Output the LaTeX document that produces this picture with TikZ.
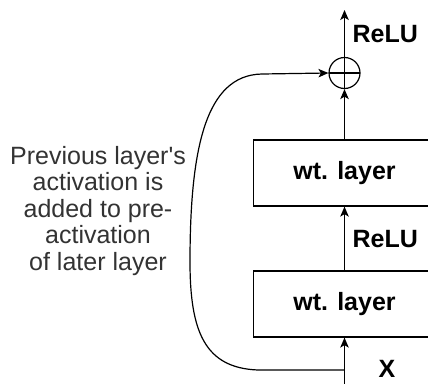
\documentclass[tikz,border=0pt]{standalone}
\usepackage{fontspec}
\setmainfont{Liberation Sans}
\usetikzlibrary{arrows.meta}
\begin{document}
\begin{tikzpicture}[x=1pt,y=-1pt,
  line width=1.2pt,
  tip/.style={-{Stealth[length=10pt,width=8.5pt,inset=2.5pt]}},
  layerbox/.style={draw,rectangle,minimum width=182pt,minimum height=66pt,inner sep=0pt,
    font=\fontsize{25}{26.5}\selectfont\bfseries},
  lbl/.style={inner sep=0pt,font=\fontsize{25}{26.5}\selectfont\bfseries},
  note/.style={inner sep=0pt,align=center,text=black!80,font=\fontsize{25}{26.5}\selectfont},
  addnode/.style={draw,circle,minimum size=31pt,inner sep=0pt,
    path picture={\draw[line width=1.2pt] (path picture bounding box.north) -- (path picture bounding box.south)
      (path picture bounding box.west) -- (path picture bounding box.east);}}]
\useasboundingbox (0,0) rectangle (428,383);
\fill[white] (0,0) rectangle (428,383);
\node[layerbox] (box1) at (344.5,173) {wt. layer};
\node[layerbox] (box2) at (344.5,304) {wt. layer};
\node[addnode] (plus) at (344.5,73) {};
\coordinate (top) at (344.5,10);
\coordinate (bottom) at (344.5,390);
\coordinate (skip) at (344.5,370);
\node[lbl,anchor=west] (relu1) at (352,34) {ReLU};
\node[lbl,anchor=west] (relu2) at (352,239) {ReLU};
\node[lbl] (xl) at (387,369) {X};
\node[note] (txt) at (98,211) {Previous layer\textquotesingle s\\activation is\\added to pre-\\activation\\of later layer};
\draw[tip] (plus.north) -- (top);
\draw[tip] (box1.north) -- (plus.south);
\draw[tip] (box2.north) -- (box1.south);
\draw[tip] (bottom) -- (box2.south);
\draw[tip] (skip) -- (258,370) .. controls (205,368) and (190,332) .. (190,262)
  .. controls (190,150) and (205,75) .. (262,74) -- (plus.west);
\end{tikzpicture}
\end{document}
